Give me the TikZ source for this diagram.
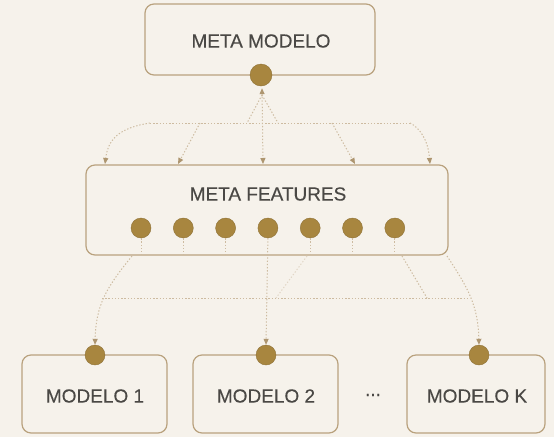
\documentclass[tikz,border=0pt]{standalone}
\usepackage{fontspec}
\setmainfont{Liberation Sans}
\newfontfamily\labelfont[FakeBold=0.3]{Liberation Sans}
\usetikzlibrary{arrows.meta}

\definecolor{paper}{HTML}{F6F2EB}
\definecolor{frame}{HTML}{B9A27E}
\definecolor{gold}{HTML}{A8863F}
\definecolor{trail}{HTML}{CDBBA0}
\definecolor{tip}{HTML}{AE9670}
\definecolor{ink}{HTML}{4A4845}

\begin{document}
\begin{tikzpicture}[x=1pt, y=-1pt,
        box/.style={draw=frame, line width=1.2pt, rounded corners=9pt, fill=paper},
        txt/.style={text=ink, font=\labelfont\fontsize{19}{22}\selectfont},
        ball/.style={circle, fill=gold, draw=gold!85!black, line width=0.4pt,
            minimum size=20pt, inner sep=0pt},
        link/.style={draw=trail, line width=1pt, dash pattern=on 1.3pt off 1.9pt},
        arr/.style={link, -{Triangle[length=6pt, width=5pt, color=tip]}},
        biarr/.style={link, {Triangle[length=6pt, width=5pt, color=tip]}-{Triangle[length=6pt, width=5pt, color=tip]}}]
        \fill[paper] (0, 0) rectangle (554, 437);
        \useasboundingbox (0, 0) rectangle (554, 437);

        % meta modelo
        \node (mm) [box, minimum width=230pt, minimum height=71pt] at (260, 39.5) {};
        \node (mmt) [txt] at (261, 41) {META MODELO};
        \node (top) [ball, minimum size=22pt] at (261, 75) {};

        % meta features
        \node (mf) [box, minimum width=362pt, minimum height=90pt] at (267, 210) {};
        \node (mft) [txt] at (268, 194) {META FEATURES};
        \foreach \i in {1, ..., 7} {
            \node (f\i) [ball] at ({141 + 42.3 * (\i - 1)}, 228) {};
        }

        % base models
        \node (m1) [box, minimum width=145pt, minimum height=78pt] at (94.5, 394) {};
        \node (m2) [box, minimum width=145pt, minimum height=78pt] at (265.5, 394) {};
        \node (mk) [box, minimum width=138pt, minimum height=78pt] at (476, 394) {};
        \node (m1t) [txt] at (95, 396) {MODELO 1};
        \node (m2t) [txt] at (266, 396) {MODELO 2};
        \node (mkt) [txt] at (477, 396) {MODELO K};
        \node (gap) [txt] at (373, 395) {...};
        \node (b1) [ball] at (95, 355) {};
        \node (b2) [ball] at (266, 355) {};
        \node (bk) [ball] at (479, 355) {};

        % fan between meta features and meta modelo
        \coordinate (hl) at (150, 123);
        \coordinate (hr) at (410, 123);
        \coordinate (fork) at (262, 95);
        \draw[biarr] (top.south) ++(1, 2) -- (263, 164);
        \draw[link] (fork) -- (247, 123);
        \draw[link] (fork) -- (278, 123);
        \draw[link] (hl) -- (hr);
        \draw[arr] (hl) .. controls (118, 128) and (108, 140) .. (105, 164);
        \draw[arr] (hr) .. controls (420, 128) and (428, 140) .. (430, 164);
        \draw[arr] (200, 123) -- (178, 164);
        \draw[arr] (332, 123) -- (355, 164);

        % feature stems
        \foreach \i in {1, 2, 3, 5, 6, 7} {
            \draw[link] (f\i.south) -- ++(0, 17);
        }

        % fan from meta features down to the models
        \coordinate (ll) at (102, 298);
        \coordinate (lr) at (470, 298);
        \draw[link] (ll) -- (lr);
        \draw[arr] (f4.south) -- (b2.north);
        \draw[arr] (132, 256) .. controls (106, 288) and (96, 305) .. (b1.north);
        \draw[arr] (447, 256) .. controls (468, 288) and (478, 305) .. (bk.north);
        \draw[link] (402, 256) -- (427, 298);
        \draw[link, draw=trail!60] (307, 256) -- (276, 298);
    \end{tikzpicture}
\end{document}
